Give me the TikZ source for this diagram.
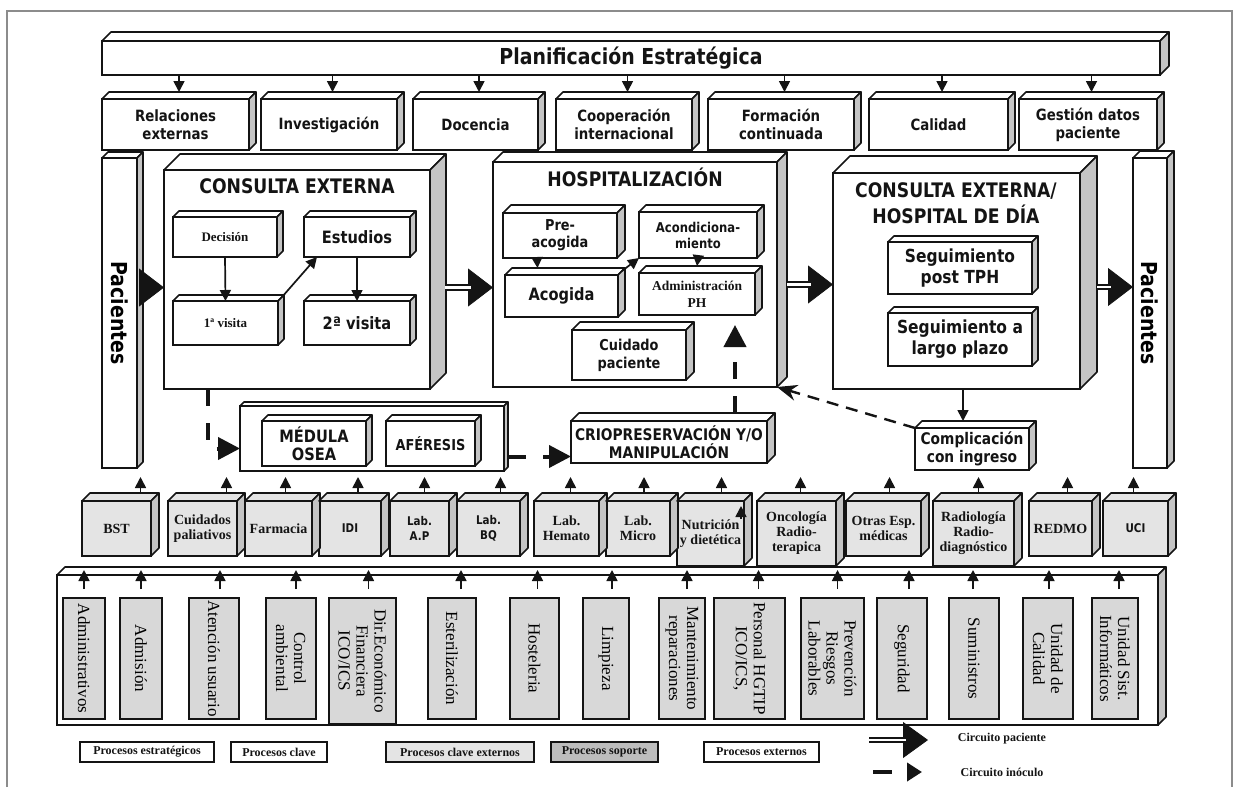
\documentclass[tikz,border=0pt]{standalone}
\usepackage{fontspec}
\setmainfont{Liberation Serif}
\newfontfamily\hsans{DejaVu Sans}[FakeStretch=0.86]
\usetikzlibrary{arrows.meta,positioning,calc}
\definecolor{Ink}{HTML}{141414}
\definecolor{Frame}{HTML}{8C8C8C}
\definecolor{SideGray}{HTML}{C4C4C4}
\definecolor{ExtGray}{HTML}{E4E4E4}
\definecolor{SupGray}{HTML}{D8D8D8}
\definecolor{KeyGray}{HTML}{BDBDBD}
\tikzset{
  corners/.style n args={4}{at={($(#1,#2)!0.5!(#3,#4)$)},minimum width=#3-#1,minimum height=#4-#2},
  blk/.style={draw=Ink,line width=1.8pt,fill=white,inner sep=0pt,outer sep=0pt,align=center,text=Ink},
  extbox/.style={blk,fill=ExtGray},
  supbox/.style={blk,fill=SupGray,line width=1.6pt},
  keybox/.style={blk,line width=2pt,serb={12}{14}},
  sf/.style 2 args={font=\hsans\bfseries\fontsize{#1}{#2}\selectfont},
  serb/.style 2 args={font=\rmfamily\bfseries\fontsize{#1}{#2}\selectfont},
  serr/.style 2 args={font=\rmfamily\fontsize{#1}{#2}\selectfont},
  arr/.style={-{Triangle[length=11pt,width=11pt]},line width=1.7pt,draw=Ink},
  phead/.style={-{Triangle[length=25pt,width=38pt]},line width=0.8pt,draw=Ink},
  pshaft/.style={draw=Ink,double=white,double distance=2.6pt,line width=2pt,shorten >=22pt},
  inoc/.style={draw=Ink,line width=4pt,dash pattern=on 17pt off 17pt,-{Triangle[length=22pt,width=22pt]}},
  backflow/.style={draw=Ink,line width=2.4pt,dash pattern=on 12pt off 8pt,-{Stealth[length=20pt,width=16pt]}}
}
% top and side face of a box node
\newcommand\cubefaces[4]{%
  \filldraw[draw=Ink,line width=1.6pt,line join=round,fill=#3]
    (#1.north west) -- ++(#2,-#2) -- ($(#1.north east)+(#2,-#2)$) -- (#1.north east) -- cycle;
  \filldraw[draw=Ink,line width=1.6pt,line join=round,fill=#4]
    (#1.north east) -- ++(#2,-#2) -- ($(#1.south east)+(#2,-#2)$) -- (#1.south east) -- cycle;}

\begin{document}
\begin{tikzpicture}[x=1pt,y=-1pt]
\useasboundingbox (0,0) rectangle (1239,787);
\draw[Frame,line width=1.2pt] (7,787) -- (7,11) -- (1232,11) -- (1232,787);

% strategic processes
\node[blk,sf={22}{24},corners={102}{41}{1160}{75}] (plan) {Planificación Estratégica};
\node[blk,sf={15.5}{18},corners={102}{99}{249}{150}] (rel) {Relaciones\\externas};
\node[blk,sf={15.5}{18},corners={261}{99}{397}{150}] (inv) {Investigación};
\node[blk,sf={15.5}{18},corners={413}{99}{538}{150}] (doc) {Docencia};
\node[blk,sf={15.5}{18},corners={556}{99}{692}{150}] (coop) {Cooperación\\internacional};
\node[blk,sf={15.5}{18},corners={708}{99}{854}{150}] (form) {Formación\\continuada};
\node[blk,sf={15.5}{18},corners={869}{99}{1008}{150}] (cal) {Calidad};
\node[blk,sf={15.5}{18},corners={1019}{99}{1157}{150}] (gest) {Gestión datos\\paciente};

% patients
\node[blk,corners={102}{158}{137}{468},label={[sf={22}{24},rotate=-90]center:Pacientes}] (pacL) {};
\node[blk,corners={1133}{158}{1167}{468},label={[sf={22}{24},rotate=-90]center:Pacientes}] (pacR) {};

% key processes
\node[blk,corners={164}{170}{430}{389}] (ce) {};
\node[sf={20}{24},text=Ink] (ceT) at (297,186) {CONSULTA EXTERNA};
\node[blk,serb={13}{15},corners={173}{217}{277}{257}] (dec) {Decisión};
\node[blk,sf={17}{19},corners={304}{217}{410}{257}] (est) {Estudios};
\node[blk,serb={13}{15},corners={173}{301}{278}{345}] (v1) {1ª visita};
\node[blk,sf={17}{19},corners={304}{301}{410}{345}] (v2) {2ª visita};

\node[blk,corners={493}{162}{777}{387}] (hosp) {};
\node[sf={20}{24},text=Ink] (hospT) at (635,177) {HOSPITALIZACIÓN};
\node[blk,sf={15}{17},corners={503}{213}{617}{258}] (pre) {Pre-\\acogida};
\node[blk,sf={13.5}{16},corners={639}{212}{757}{258}] (acond) {Acondiciona-\\miento};
\node[blk,sf={17}{19},corners={505}{275}{618}{317}] (acog) {Acogida};
\node[blk,serb={13.5}{17},corners={639}{273}{755}{315}] (adm) {Administración\\PH};
\node[blk,sf={15}{18},corners={572}{330}{686}{380}] (cuid) {Cuidado\\paciente};

\node[blk,corners={833}{173}{1080}{389}] (cehd) {};
\node[sf={20}{26},text=Ink,align=center] (cehdT) at (956,203) {CONSULTA EXTERNA/\\HOSPITAL DE DÍA};
\node[blk,sf={18}{21},corners={888}{242}{1032}{294}] (spt) {Seguimiento\\post TPH};
\node[blk,sf={18}{21},corners={888}{313}{1032}{366}] (slp) {Seguimiento a\\largo plazo};

\node[blk,corners={240}{406}{504}{471}] (medc) {};
\node[blk,sf={17}{18},corners={262}{421}{366}{466}] (med) {MÉDULA\\OSEA};
\node[blk,sf={15}{17},corners={386}{421}{475}{466}] (afe) {AFÉRESIS};
\node[blk,sf={16}{18},corners={571}{421}{767}{463}] (crio) {CRIOPRESERVACIÓN Y/O\\MANIPULACIÓN};
\node[blk,sf={16}{18},corners={915}{428}{1029}{470}] (comp) {Complicación\\con ingreso};

\foreach \n/\dep in {plan/9,rel/7,inv/7,doc/7,coop/7,form/7,cal/7,gest/7,pacL/6,pacR/7,
    ce/16,dec/6,est/6,v1/6,v2/6,hosp/10,pre/8,acond/7,acog/7,adm/7,cuid/8,
    cehd/17,spt/6,slp/6,medc/4,med/6,afe/6,crio/8,comp/7}
  {\cubefaces{\n}{\dep}{white}{SideGray}}

\foreach \n in {rel,inv,doc,coop,form,cal,gest}
  \draw[arr] ($(\n.north |- plan.south)+(3.5,0)$) -- ($(\n.north)+(3.5,-7)$);

\draw[arr] (dec.south) -- (v1.north);
\draw[arr] (est.south) -- (v2.north);
\draw[arr] ($(v1.north east)+(4,-4)$) -- ($(est.south west)+(13,0)$);
\draw[arr] ($(pre.south)+(-23,0)$) -- ($(acog.north)+(-24,-7)$);
\draw[arr] (acond.south) -- ($(adm.north)+(0,-7)$);
\draw[arr] ($(acog.north east)+(4,-4)$) -- (acond.south west);
\coordinate (c1) at ($(comp.north)+(-9,-7)$);
\draw[arr] (c1 |- cehd.south) -- (c1);

% patient circuit
\coordinate (f1) at ($(ce.west)+(0,8)$);
\coordinate (f2) at ($(ce.east)+(15,8)$);
\coordinate (f3) at ($(hosp.east)+(10,10)$);
\coordinate (f4) at ($(cehd.east)+(17,6)$);
\draw[phead] ($(f1 -| pacL.east)+(5,0)$) -- (f1);
\draw[pshaft] ($(f1 -| pacL.east)+(5,0)$) -- (f1);
\draw[phead] (f2) -- (f2 -| hosp.west);
\draw[pshaft] (f2) -- (f2 -| hosp.west);
\draw[phead] (f3) -- (f3 -| cehd.west);
\draw[pshaft] (f3) -- (f3 -| cehd.west);
\draw[phead] (f4) -- (f4 -| pacR.west);
\draw[pshaft] (f4) -- (f4 -| pacR.west);

% inoculum circuit
\draw[inoc] ($(ce.south)+(-89,0)$) |- ($(medc.west)+(0,10)$);
\coordinate (i2) at ($(medc.east)+(5,18)$);
\draw[inoc] (i2) -- (i2 -| crio.west);
\coordinate (i3) at ($(adm.south)+(38,10)$);
\draw[inoc] ($(i3 |- crio.north)+(0,-8)$) -- (i3);
\draw[backflow] (comp.north west) -- (hosp.south east);

% support processes
\node[blk,corners={57}{575}{1158}{725}] (sup) {};
\cubefaces{sup}{8}{white}{SideGray}
\node[supbox,corners={63}{598}{105}{719},label={[serr={17}{18},rotate=-90]center:Administrativos}] (sadm) {};
\node[supbox,corners={120}{598}{162}{719},label={[serr={17}{18},rotate=-90]center:Admisión}] (sadmi) {};
\node[supbox,corners={189}{598}{239}{719},label={[serr={17}{18},rotate=-90]center:Atención usuario}] (saten) {};
\node[supbox,corners={266}{598}{316}{719},label={[serr={17}{18},rotate=-90,align=center]center:Control\\ambiental}] (sctrl) {};
\node[supbox,corners={329}{598}{396}{724},label={[serr={17}{18},rotate=-90,align=center]center:Dir.Económico\\Financiera\\ICO/ICS}] (sdir) {};
\node[supbox,corners={428}{598}{476}{719},label={[serr={17}{18},rotate=-90]center:Esterilización}] (sest) {};
\node[supbox,corners={510}{598}{559}{719},label={[serr={17}{18},rotate=-90]center:Hosteleria}] (shos) {};
\node[supbox,corners={583}{598}{629}{719},label={[serr={17}{18},rotate=-90]center:Limpieza}] (slim) {};
\node[supbox,corners={659}{598}{705}{719},label={[serr={17}{18},rotate=-90,align=center]center:Mantenimiento\\reparaciones}] (smant) {};
\node[supbox,corners={714}{598}{785}{719},label={[serr={17}{18},rotate=-90,align=center]center:Personal HGTIP\\ICO/ICS,}] (spers) {};
\node[supbox,corners={801}{598}{864}{719},label={[serr={17}{18},rotate=-90,align=center]center:Prevención\\Riesgos\\Laborables}] (sprev) {};
\node[supbox,corners={877}{598}{927}{719},label={[serr={17}{18},rotate=-90]center:Seguridad}] (sseg) {};
\node[supbox,corners={949}{598}{999}{719},label={[serr={17}{18},rotate=-90]center:Suministros}] (ssum) {};
\node[supbox,corners={1023}{598}{1073}{719},label={[serr={17}{18},rotate=-90,align=center]center:Unidad de\\Calidad}] (suc) {};
\node[supbox,corners={1092}{598}{1138}{719},label={[serr={17}{18},rotate=-90,align=center]center:Unidad Sist.\\Informáticos}] (susi) {};

% external key processes
\node[extbox,serb={14}{15},corners={82}{501}{151}{556}] (bst) {BST};
\node[extbox,serb={14}{15},corners={168}{501}{237}{556}] (cpal) {Cuidados\\paliativos};
\node[extbox,serb={14}{15},corners={245}{501}{312}{556}] (farm) {Farmacia};
\node[extbox,sf={12}{15},corners={319}{501}{381}{556}] (idi) {IDI};
\node[extbox,sf={12}{15},corners={390}{501}{449}{556}] (lap) {Lab.\\A.P};
\node[extbox,sf={12}{15},corners={457}{501}{520}{556}] (lbq) {Lab.\\BQ};
\node[extbox,serb={14}{15},corners={534}{501}{599}{556}] (lhem) {Lab.\\Hemato};
\node[extbox,serb={14}{15},corners={606}{501}{670}{556}] (lmic) {Lab.\\Micro};
\node[extbox,serb={14}{15},corners={677}{501}{744}{566}] (nutr) {Nutrición\\y dietética};
\node[extbox,serb={14}{15},corners={757}{501}{836}{566}] (onco) {Oncología\\Radio-\\terapica};
\node[extbox,serb={14}{15},corners={846}{501}{921}{556}] (otras) {Otras Esp.\\médicas};
\node[extbox,serb={14}{15},corners={933}{501}{1014}{566}] (radio) {Radiología\\Radio-\\diagnóstico};
\node[extbox,serb={14}{15},corners={1029}{501}{1092}{556}] (redmo) {REDMO};
\node[extbox,sf={12}{15},corners={1103}{501}{1168}{556}] (uci) {UCI};
\foreach \n in {bst,cpal,farm,idi,lap,lbq,lhem,lmic,nutr,onco,otras,radio,redmo,uci}
  {\cubefaces{\n}{8}{ExtGray}{SideGray}}

\foreach \n/\o in {bst/24,cpal/24,farm/7,idi/8,lap/5,lbq/12,lhem/4,lmic/6,nutr/11,onco/4,otras/6,radio/5,redmo/7,uci/-2}
  \draw[arr] ($(\n.north)+(\o,-8)$) -- ++(0,-16);
\draw[arr] ($(nutr.north east)+(-3,18)$) -- ++(0,-13);
\foreach \n/\o in {sadm/0,sadmi/0,saten/6,sctrl/5,sdir/6,sest/9,shos/3,slim/6,smant/5,spers/9,sprev/5,sseg/7,ssum/-1,suc/1,susi/4}
  \draw[arr] ($(\n.north)+(\o,-9)$) -- ++(0,-19);

% legend
\node[keybox,corners={80}{742}{214}{762}] (k1) {Procesos estratégicos};
\node[keybox,corners={231}{742}{327}{762}] (k2) {Procesos clave};
\node[keybox,fill=ExtGray,corners={386}{742}{534}{762}] (k3) {Procesos clave externos};
\node[keybox,fill=KeyGray,corners={551}{742}{658}{762}] (k4) {Procesos soporte};
\node[keybox,corners={704}{742}{819}{762}] (k5) {Procesos externos};
\coordinate (kp1) at (869,740);
\coordinate (kp2) at (928,740);
\draw[phead,-{Triangle[length=25pt,width=36pt]}] (kp1) -- (kp2);
\draw[pshaft] (kp1) -- (kp2);
\coordinate (ki1) at (873,772);
\coordinate (ki2) at (922,772);
\draw[inoc,dash pattern=on 19pt off 15pt,-{Triangle[length=15pt,width=18pt]}] (ki1) -- (ki2);
\node[serb={12}{14},text=Ink] (kpT) at (1002,739) {Circuito paciente};
\node[serb={12}{14},text=Ink] (kiT) at (1002,772) {Circuito inóculo};
\end{tikzpicture}
\end{document}
